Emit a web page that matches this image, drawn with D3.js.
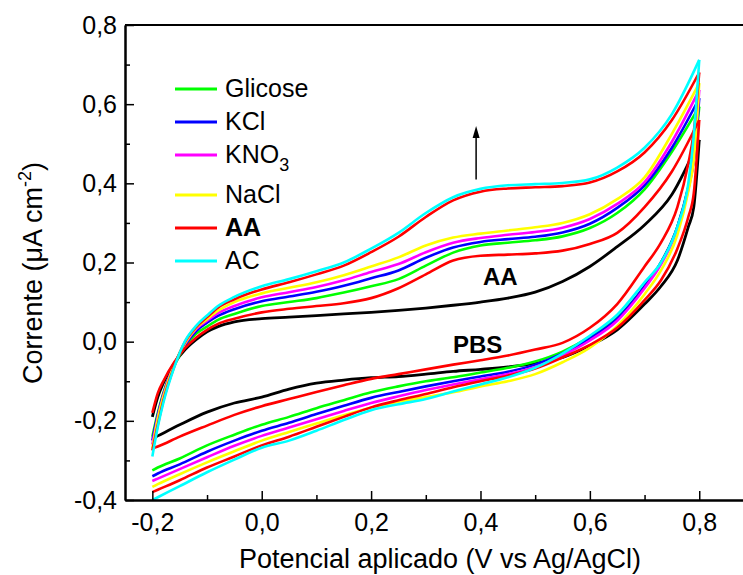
<!DOCTYPE html>
<html>
<head>
<meta charset="utf-8">
<script src="https://cdn.jsdelivr.net/npm/d3@7"></script>
<style>
body { margin: 0; background: #fff; }
text { font-family: "Liberation Sans", Arial, sans-serif; fill: #000; }
</style>
</head>
<body>
<div id="chart"></div>
<script>
// potential grids (V) for the forward (upper) and reverse (lower) scans
var xFwd = [-0.2, -0.19, -0.18, -0.16, -0.14, -0.12, -0.1, -0.08, -0.05, 0, 0.05, 0.1, 0.15, 0.2, 0.25, 0.3, 0.35, 0.4, 0.45, 0.5, 0.55, 0.6, 0.65, 0.7, 0.75, 0.8];
var xRev = [-0.2, -0.19, -0.15, -0.1, -0.05, 0, 0.05, 0.1, 0.15, 0.2, 0.25, 0.3, 0.35, 0.4, 0.45, 0.5, 0.55, 0.6, 0.65, 0.7, 0.73, 0.76, 0.78, 0.79, 0.8];

var pbsFwd = [-0.19, -0.14, -0.105, -0.055, -0.02, 0.005, 0.025, 0.038, 0.05, 0.058, 0.062, 0.066, 0.07, 0.074, 0.079, 0.085, 0.092, 0.1, 0.11, 0.125, 0.152, 0.19, 0.24, 0.295, 0.372, 0.51];
var pbsRev = [-0.245, -0.238, -0.21, -0.178, -0.155, -0.14, -0.12, -0.105, -0.097, -0.091, -0.088, -0.082, -0.075, -0.07, -0.064, -0.055, -0.04, -0.01, 0.03, 0.095, 0.14, 0.205, 0.29, 0.34, 0.51];

var glicoseFwd = [-0.24, -0.18, -0.13, -0.06, -0.012, 0.02, 0.038, 0.055, 0.07, 0.09, 0.1, 0.11, 0.124, 0.14, 0.158, 0.192, 0.225, 0.243, 0.25, 0.256, 0.266, 0.287, 0.325, 0.385, 0.48, 0.594];
var glicoseRev = [-0.325, -0.318, -0.295, -0.262, -0.235, -0.21, -0.19, -0.168, -0.148, -0.128, -0.113, -0.1, -0.09, -0.078, -0.066, -0.05, -0.025, 0.012, 0.06, 0.14, 0.2, 0.29, 0.39, 0.46, 0.594];

var kclFwd = [-0.25, -0.185, -0.133, -0.058, -0.008, 0.027, 0.048, 0.065, 0.082, 0.102, 0.114, 0.126, 0.141, 0.16, 0.18, 0.212, 0.238, 0.252, 0.259, 0.265, 0.276, 0.298, 0.338, 0.395, 0.49, 0.615];
var kclRev = [-0.34, -0.333, -0.31, -0.278, -0.25, -0.225, -0.205, -0.183, -0.162, -0.142, -0.127, -0.113, -0.1, -0.088, -0.076, -0.058, -0.03, 0.008, 0.058, 0.14, 0.2, 0.29, 0.39, 0.46, 0.615];

var kno3Fwd = [-0.26, -0.19, -0.136, -0.058, -0.005, 0.032, 0.053, 0.072, 0.09, 0.112, 0.125, 0.138, 0.155, 0.176, 0.196, 0.226, 0.25, 0.262, 0.27, 0.277, 0.288, 0.31, 0.348, 0.403, 0.505, 0.636];
var kno3Rev = [-0.352, -0.346, -0.322, -0.292, -0.263, -0.238, -0.217, -0.196, -0.175, -0.155, -0.138, -0.122, -0.108, -0.095, -0.082, -0.064, -0.035, 0.003, 0.053, 0.135, 0.195, 0.285, 0.385, 0.46, 0.636];

var naclFwd = [-0.27, -0.195, -0.14, -0.058, -0.003, 0.035, 0.057, 0.078, 0.1, 0.122, 0.136, 0.15, 0.168, 0.19, 0.213, 0.243, 0.263, 0.273, 0.281, 0.289, 0.3, 0.322, 0.36, 0.415, 0.525, 0.653];
var naclRev = [-0.367, -0.36, -0.335, -0.305, -0.277, -0.25, -0.228, -0.207, -0.186, -0.167, -0.152, -0.14, -0.128, -0.113, -0.1, -0.082, -0.052, -0.015, 0.04, 0.12, 0.18, 0.27, 0.38, 0.46, 0.653];

var aaFwd = [-0.18, -0.13, -0.1, -0.052, -0.016, 0.01, 0.03, 0.045, 0.058, 0.074, 0.083, 0.09, 0.097, 0.11, 0.135, 0.17, 0.205, 0.217, 0.22, 0.223, 0.23, 0.247, 0.275, 0.34, 0.43, 0.56];
var aaRev = [-0.38, -0.374, -0.35, -0.318, -0.29, -0.262, -0.24, -0.215, -0.19, -0.166, -0.148, -0.132, -0.115, -0.1, -0.086, -0.068, -0.04, -0.008, 0.035, 0.105, 0.155, 0.235, 0.315, 0.375, 0.56];

var aa2Fwd = [-0.275, -0.21, -0.15, -0.063, 0.0, 0.037, 0.062, 0.086, 0.107, 0.132, 0.15, 0.17, 0.192, 0.226, 0.265, 0.315, 0.357, 0.379, 0.387, 0.39, 0.393, 0.402, 0.43, 0.478, 0.56, 0.68];
var aa2Rev = [-0.27, -0.265, -0.24, -0.212, -0.185, -0.163, -0.145, -0.127, -0.11, -0.094, -0.082, -0.07, -0.058, -0.047, -0.035, -0.02, -0.003, 0.035, 0.095, 0.19, 0.25, 0.34, 0.45, 0.53, 0.68];

var acFwd = [-0.29, -0.215, -0.155, -0.065, 0.002, 0.04, 0.066, 0.09, 0.113, 0.14, 0.158, 0.178, 0.2, 0.235, 0.275, 0.325, 0.365, 0.386, 0.395, 0.398, 0.401, 0.41, 0.44, 0.49, 0.575, 0.712];
var acRev = [-0.40, -0.393, -0.365, -0.33, -0.298, -0.268, -0.25, -0.225, -0.198, -0.173, -0.158, -0.145, -0.126, -0.108, -0.09, -0.066, -0.03, 0.015, 0.068, 0.15, 0.2, 0.29, 0.4, 0.52, 0.712];

var xTicks = [-0.2, 0, 0.2, 0.4, 0.6, 0.8];
var xMinor = [-0.1, 0.1, 0.3, 0.5, 0.7];
var yTicks = [-0.4, -0.2, 0, 0.2, 0.4, 0.6, 0.8];
var yMinor = [-0.3, -0.1, 0.1, 0.3, 0.5, 0.7];

var legendNames = ["Glicose", "KCl", "KNO3", "NaCl", "AA", "AC"];
var legendColors = ["#00ff00", "#0000ff", "#ff00ff", "#ffff00", "#ff0000", "#00ffff"];

var series = [
    {fwd: pbsFwd, rev: pbsRev, color: "#000000", w: 2.8},
    {fwd: glicoseFwd, rev: glicoseRev, color: "#00ff00", w: 2.6},
    {fwd: kclFwd, rev: kclRev, color: "#0000ff", w: 2.6},
    {fwd: kno3Fwd, rev: kno3Rev, color: "#ff00ff", w: 2.6},
    {fwd: naclFwd, rev: naclRev, color: "#ffff00", w: 2.6},
    {fwd: aaFwd, rev: aaRev, color: "#ff0000", w: 2.6},
    {fwd: aa2Fwd, rev: aa2Rev, color: "#ff0000", w: 2.6},
    {fwd: acFwd, rev: acRev, color: "#00ffff", w: 2.6}
];

var svgWidth = 743;
var svgHeight = 575;
var plotLeft = 125, plotTop = 25, plotBottom = 500;

var svg = d3.select("#chart")
    .append("svg")
    .attr("width", svgWidth)
    .attr("height", svgHeight);

var x = d3.scaleLinear().domain([-0.25, 0.88]).range([plotLeft, svgWidth]);
var y = d3.scaleLinear().domain([-0.4, 0.8]).range([plotBottom, plotTop]);

function fmt(d) {
    return d3.format(".1f")(d).replace(".", ",").replace("\u2212", "-");
}

var line = d3.line()
    .x(function(d) { return x(d[0]); })
    .y(function(d) { return y(d[1]); })
    .curve(d3.curveMonotoneX);

series.forEach(function(s) {
    [[xFwd, s.fwd], [xRev, s.rev]].forEach(function(b) {
        var pts = b[0].map(function(v, i) { return [v, b[1][i]]; });
        svg.append("path")
            .attr("d", line(pts))
            .attr("fill", "none")
            .attr("stroke", s.color)
            .attr("stroke-width", s.w)
            .attr("stroke-linejoin", "round");
    });
});

// axes
svg.append("g")
    .attr("transform", "translate(0," + plotBottom + ")")
    .call(d3.axisBottom(x).tickValues(xTicks).tickFormat(fmt).tickSizeInner(-9).tickSizeOuter(0).tickPadding(13));
svg.append("g")
    .attr("transform", "translate(0," + plotBottom + ")")
    .call(d3.axisBottom(x).tickValues(xMinor).tickFormat("").tickSizeInner(-5).tickSizeOuter(0));

svg.append("g")
    .attr("transform", "translate(" + plotLeft + ",0)")
    .call(d3.axisLeft(y).tickValues(yTicks).tickFormat(fmt).tickSizeInner(-9).tickSizeOuter(0).tickPadding(8));
svg.append("g")
    .attr("transform", "translate(" + plotLeft + ",0)")
    .call(d3.axisLeft(y).tickValues(yMinor).tickFormat("").tickSizeInner(-5).tickSizeOuter(0));

svg.selectAll(".domain").attr("stroke", "#000").attr("stroke-width", 2);
svg.selectAll(".tick line").attr("stroke", "#000").attr("stroke-width", 1.5);
svg.selectAll(".tick text")
    .style("font-size", "25px")
    .style("font-family", "'Liberation Sans', Arial, sans-serif")
    .attr("fill", "#000");

svg.append("line")
    .attr("x1", plotLeft).attr("x2", svgWidth)
    .attr("y1", plotTop).attr("y2", plotTop)
    .attr("stroke", "#000").attr("stroke-width", 2);

// axis titles
svg.append("text")
    .attr("x", 440).attr("y", 568)
    .attr("text-anchor", "middle")
    .style("font-size", "27px")
    .text("Potencial aplicado (V vs Ag/AgCl)");

var yTitle = svg.append("text")
    .attr("transform", "translate(42,273) rotate(-90)")
    .attr("text-anchor", "middle")
    .style("font-size", "27px");
yTitle.append("tspan").text("Corrente (\u03bcA cm");
yTitle.append("tspan").attr("dy", -11).style("font-size", "18px").text("-2");
yTitle.append("tspan").attr("dy", 11).text(")");

// legend
legendNames.forEach(function(name, i) {
    var ly = 89 + i * 33 + (i >= 3 ? 7 : 0);
    svg.append("line")
        .attr("x1", 175).attr("x2", 217)
        .attr("y1", ly).attr("y2", ly)
        .attr("stroke", legendColors[i])
        .attr("stroke-width", 3);
    var t = svg.append("text")
        .attr("x", 225).attr("y", ly + 8)
        .style("font-size", "25px")
        .style("font-weight", name == "AA" ? "bold" : "normal");
    if (name == "KNO3") {
        t.append("tspan").text("KNO");
        t.append("tspan").attr("dy", 8).style("font-size", "18px").text("3");
    } else {
        t.text(name);
    }
});

// annotations
svg.append("text")
    .attr("x", 483).attr("y", 285)
    .style("font-size", "24px").style("font-weight", "bold")
    .text("AA");
svg.append("text")
    .attr("x", 453).attr("y", 353)
    .style("font-size", "24px").style("font-weight", "bold")
    .text("PBS");

// arrow
var ax = x(0.392);
svg.append("line")
    .attr("x1", ax).attr("x2", ax)
    .attr("y1", y(0.41)).attr("y2", y(0.53))
    .attr("stroke", "#000").attr("stroke-width", 1.5);
svg.append("path")
    .attr("d", "M" + (ax - 3.5) + "," + (y(0.545) + 12) + " L" + ax + "," + y(0.545) + " L" + (ax + 3.5) + "," + (y(0.545) + 12) + " Z")
    .attr("fill", "#000");
</script>
</body>
</html>
